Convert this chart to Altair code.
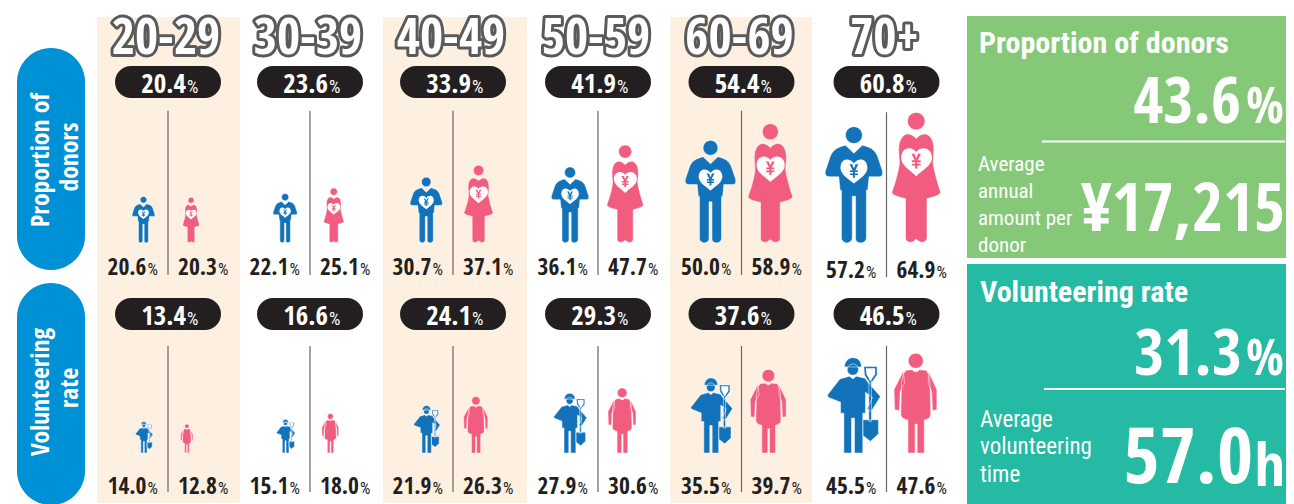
import re
import altair as alt
import pandas as pd

AGE_GROUPS = ["20-29", "30-39", "40-49", "50-59", "60-69", "70+"]
DONOR_TOTAL = [20.4, 23.6, 33.9, 41.9, 54.4, 60.8]
DONOR_MALE = [20.6, 22.1, 30.7, 36.1, 50.0, 57.2]
DONOR_FEMALE = [20.3, 25.1, 37.1, 47.7, 58.9, 64.9]
VOL_TOTAL = [13.4, 16.6, 24.1, 29.3, 37.6, 46.5]
VOL_MALE = [14.0, 15.1, 21.9, 27.9, 35.5, 45.5]
VOL_FEMALE = [12.8, 18.0, 26.3, 30.6, 39.7, 47.6]
DONOR_RATE = "43.6"
DONOR_AMOUNT = "¥17,215"
VOL_RATE = "31.3"
VOL_TIME = "57.0"

NARROW = "Open Sans Condensed"
RC = "Roboto Condensed"
INK = "#231f20"
BLUE = "#1273bb"
PINK = "#f25c7e"
CENTERS = [168, 310, 453, 598, 741.5, 886.5]

W, H = 1278, 496
sx = alt.Scale(domain=[8, 1286], range=[0, W], nice=False, zero=False)
sy = alt.Scale(domain=[8, 504], range=[0, H], nice=False, zero=False)


def X(f="x"):
    return alt.X(f, type="quantitative", scale=sx, axis=None)


def Y(f="y"):
    return alt.Y(f, type="quantitative", scale=sy, axis=None)


def X2(f="x2"):
    return alt.X2(f)


def Y2(f="y2"):
    return alt.Y2(f)


def norm(path, cx, foot, h):
    nums = []

    def rep(m):
        i = len(nums)
        nums.append(1)
        v = float(m.group(0))
        v = (v - cx) / (h / 2) if i % 2 == 0 else (v - foot) / (h / 2)
        return f"{v:.4f}"

    return re.sub(r"-?\d+(\.\d+)?", rep, path)


def circle(cx, cy, r):
    k = 0.5523 * r
    return (
        f"M{cx-r} {cy} C{cx-r} {cy-k} {cx-k} {cy-r} {cx} {cy-r} "
        f"C{cx+k} {cy-r} {cx+r} {cy-k} {cx+r} {cy} "
        f"C{cx+r} {cy+k} {cx+k} {cy+r} {cx} {cy+r} "
        f"C{cx-k} {cy+r} {cx-r} {cy+k} {cx-r} {cy} Z "
    )


def yen(cx, cy, s):
    pts = [(-13, -20), (-5, -20), (0, -8), (5, -20), (13, -20), (4, -2), (12, -2), (12, 3), (3, 3), (3, 7),
           (12, 7), (12, 12), (3, 12), (3, 20), (-3, 20), (-3, 12), (-12, 12), (-12, 7), (-3, 7), (-3, 3),
           (-12, 3), (-12, -2), (-4, -2)]
    return "M" + " L".join(f"{cx+s*a:.1f} {cy+s*b:.1f}" for a, b in pts) + " Z"


M_D = (517, 728, 344)
F_D = (708, 728, 388)
M_V = (515, 505, 287)
F_V = (708, 505, 293)

male_donor = circle(517, 408, 25) + (
    "M492 438 L517 462 L542 438 C565 444 578 450 587 470 L602 515 C604 530 598 532 590 532 L562 532 L558 572 "
    "L554 572 L554 715 C552 728 538 730 534 728 C526 728 522 722 522 715 L522 590 L512 590 L512 715 "
    "C510 728 496 730 492 728 C486 726 480 722 480 715 L480 572 L476 572 L472 532 L445 532 C434 532 430 525 432 515 "
    "L447 470 C456 450 470 444 492 438 Z"
)
male_heart = ("M517 492 C505 475 478 476 477 505 C477 525 500 538 517 552 C534 538 557 525 557 505 "
              "C556 476 529 475 517 492 Z")
female_donor = circle(708, 366, 26) + (
    "M680 404 C690 404 700 408 708 418 C716 408 726 404 736 404 C755 410 762 430 760 460 L758 490 "
    "C762 520 775 560 781 578 C775 590 755 592 740 597 L740 715 C738 726 726 730 716 724 L708 718 L700 724 "
    "C690 730 678 726 676 715 L676 597 C660 592 640 590 635 578 C642 560 655 520 658 490 L656 460 "
    "C654 430 662 410 680 404 Z"
)
female_heart = ("M708 458 C696 440 664 442 663 475 C663 498 690 512 708 530 C726 512 755 498 755 475 "
                "C754 442 720 440 708 458 Z")
male_vol = (
    "M490 246 C490 228 503 218 515 218 C530 218 541 228 541 246 L490 246 Z "
    + circle(515, 254, 17)
    + "M476 282 L505 274 L515 282 L525 274 L552 280 L560 292 L598 335 L570 380 L558 372 L574 338 L553 322 "
    "L553 385 L545 385 L545 505 L520 505 L520 400 L511 400 L511 505 L488 505 L488 385 L478 385 L478 352 "
    "L442 338 L438 331 L476 282 Z "
    "M563 285 L571 285 L571 410 L563 410 Z "
    "M545 405 L592 405 L592 448 L568 470 L545 452 Z "
    "M548 245 L588 245 L588 270 L570 295 L565 295 L550 270 Z"
)
male_shield = "M554 250 L582 250 L582 268 L568 288 L556 268 Z"
female_vol = circle(708, 234, 22) + (
    "M680 262 L698 260 C702 268 714 268 718 260 L738 262 C745 268 748 280 750 300 L752 390 C752 400 745 405 733 408 "
    "L733 505 L712 505 L712 420 L706 420 L706 505 L685 505 L685 408 C672 405 664 400 664 390 L666 300 "
    "C668 280 672 268 680 262 Z "
    "M745 265 L770 318 L770 378 L757 380 L755 325 L745 300 Z "
    "M671 265 L675 300 L662 325 L660 380 L646 378 L644 318 Z"
)

# figure table
fig_rows = []
for i in range(6):
    c = CENTERS[i]
    fig_rows.append(dict(kind="md", v=DONOR_MALE[i], x=c - (20 + 0.22 * DONOR_MALE[i]), y=242.7, h=1.9 * DONOR_MALE[i] + 7))
    fig_rows.append(dict(kind="fd", v=DONOR_FEMALE[i], x=c + (20 + 0.15 * DONOR_FEMALE[i]), y=242.7, h=1.9 * DONOR_FEMALE[i] + 7))
    fig_rows.append(dict(kind="mv", v=VOL_MALE[i], x=c - (20 + 0.3 * VOL_MALE[i]), y=453, h=2.03 * VOL_MALE[i] + 3))
    fig_rows.append(dict(kind="fv", v=VOL_FEMALE[i], x=c + (15 + 0.3 * VOL_FEMALE[i]), y=453, h=2.03 * VOL_FEMALE[i] + 3))
figs = pd.DataFrame(fig_rows)
figs["s"] = figs["h"] ** 2


def glyph(kind, path, box, fill, stroke=None):
    kw = dict(filled=True, fill=fill, opacity=1, shape=norm(path, *box), strokeWidth=0)
    if stroke:
        kw.update(stroke=stroke, strokeWidth=0.5)
    return alt.Chart(figs[figs.kind == kind]).mark_point(**kw).encode(
        x=X(), y=Y(), size=alt.Size("s", type="quantitative", scale=None, legend=None)
    )


def rects(rows, **mark):
    return alt.Chart(pd.DataFrame(rows)).mark_rect(**mark).encode(x=X(), x2=X2(), y=Y(), y2=Y2())


def text(rows, size, color="white", weight="normal", align="left", font=NARROW, **kw):
    return alt.Chart(pd.DataFrame(rows)).mark_text(
        font=font, fontSize=size, fontWeight=weight, color=color, align=align, baseline="alphabetic", **kw
    ).encode(x=X(), y=Y(), text=alt.Text("t", type="nominal"))


layers = []

# bands and panels
layers.append(rects([dict(x=a, x2=b, y=17, y2=503) for a, b in [(97, 240), (383, 527), (670, 812)]], color="#fdf0e1"))
layers.append(rects([dict(x=17, x2=85, y=48, y2=270), dict(x=17, x2=85, y=283, y2=505)], color="#0090d5", cornerRadius=34))
layers.append(rects([dict(x=967, x2=1286, y=16, y2=258)], color="#85c978"))
layers.append(rects([dict(x=967, x2=1286, y=264, y2=504)], color="#25baa3"))

# dividers
layers.append(alt.Chart(pd.DataFrame(
    [dict(x=c, y=110.7 + (1.5 if i == 5 else 0), y2=275 + (2 if i == 5 else 0)) for i, c in enumerate(CENTERS)]
    + [dict(x=c, y=346, y2=492) for c in CENTERS]
)).mark_rule(color="#666666", strokeWidth=1.2).encode(x=X(), y=Y(), y2=Y2()))

# age headers
hdr = [dict(x=c - 2, y=54, t=a) for c, a in zip(CENTERS, AGE_GROUPS)]
layers.append(text(hdr, 50, color="#5a5a5a", weight="bold", align="center", stroke="#5a5a5a", strokeWidth=6, strokeJoin="round"))
layers.append(text(hdr, 50, color="white", weight="bold", align="center"))

# black pills + totals
pills = [dict(x=c - 53, x2=c + 53, y=y, y2=y + 32) for c in CENTERS for y in (66, 298)]
layers.append(rects(pills, color=INK, cornerRadius=16))
tot_n = [dict(x=c + 18, y=92.7, t=f"{v:.1f}") for c, v in zip(CENTERS, DONOR_TOTAL)] + \
        [dict(x=c + 18, y=325, t=f"{v:.1f}") for c, v in zip(CENTERS, VOL_TOTAL)]
tot_p = [dict(x=r["x"] + 1, y=r["y"], t="%") for r in tot_n]
layers.append(text(tot_n, 27, weight="bold", align="right"))
layers.append(text(tot_p, 18, font=RC))

# sex percentages
lab_n, lab_p = [], []
for i, c in enumerate(CENTERS):
    d = 3 if i == 5 else 0
    for vals, off, y in [(DONOR_MALE, -34, 275 + d), (DONOR_FEMALE, 36.5, 275 + d), (VOL_MALE, -34, 494), (VOL_FEMALE, 36.5, 494)]:
        lab_n.append(dict(x=c + off + 12.5, y=y, t=f"{vals[i]:.1f}"))
        lab_p.append(dict(x=c + off + 13.5, y=y, t="%"))
layers.append(text(lab_n, 23.5, color=INK, weight="bold", align="right"))
layers.append(text(lab_p, 16.5, color=INK, font=RC))

# pictograms
layers += [
    glyph("md", male_donor, M_D, BLUE, "white"),
    glyph("md", male_heart, M_D, "white"),
    glyph("md", yen(517, 515, 1.0), M_D, BLUE),
    glyph("fd", female_donor, F_D, PINK, "white"),
    glyph("fd", female_heart, F_D, "white"),
    glyph("fd", yen(708, 485, 1.1), F_D, PINK),
    glyph("mv", male_vol, M_V, BLUE, "white"),
    glyph("mv", male_shield, M_V, "white"),
    glyph("fv", female_vol, F_V, PINK, "white"),
]

# rotated pill labels
layers.append(text([dict(x=49, y=160, t="Proportion of"), dict(x=78, y=157, t="donors"),
                    dict(x=49, y=392, t="Volunteering"), dict(x=78, y=388, t="rate")],
                   25.5, weight="bold", align="center", angle=270))

# right panels
layers.append(text([dict(x=979, y=53, t="Proportion of donors"), dict(x=980, y=302, t="Volunteering rate")],
                   30, weight="bold", font=RC))
layers.append(text([dict(x=1241, y=122.7, t=DONOR_RATE), dict(x=1242, y=375, t=VOL_RATE)], 65, weight="bold", align="right"))
layers.append(text([dict(x=1284, y=122.7, t="%"), dict(x=1284, y=375, t="%")], 50, weight="bold", align="right"))
layers.append(text([dict(x=1285, y=231, t=DONOR_AMOUNT)], 67, weight="bold", align="right"))
layers.append(text([dict(x=1253, y=483, t=VOL_TIME)], 78, weight="bold", align="right"))
layers.append(text([dict(x=1285, y=486, t="h")], 60, weight="bold", align="right"))
layers.append(text([dict(x=978, y=171, t="Average"), dict(x=978, y=198, t="annual"),
                    dict(x=978, y=225, t="amount per"), dict(x=978, y=252, t="donor")], 21, font=RC))
layers.append(text([dict(x=980, y=427, t="Average"), dict(x=980, y=454, t="volunteering"),
                    dict(x=980, y=482, t="time")], 23, font=RC))
layers.append(alt.Chart(pd.DataFrame([dict(x=1042, x2=1285, y=141.5), dict(x=1044, x2=1285, y=389)]))
              .mark_rule(color="white", strokeWidth=2).encode(x=X(), x2=X2(), y=Y()))

chart = alt.layer(*layers).properties(
    width=W, height=H, padding=0, autosize=alt.AutoSizeParams(type="none"), background="white"
).configure_view(stroke=None)

chart.save("out.html", embed_options={"renderer": "svg", "actions": False})
